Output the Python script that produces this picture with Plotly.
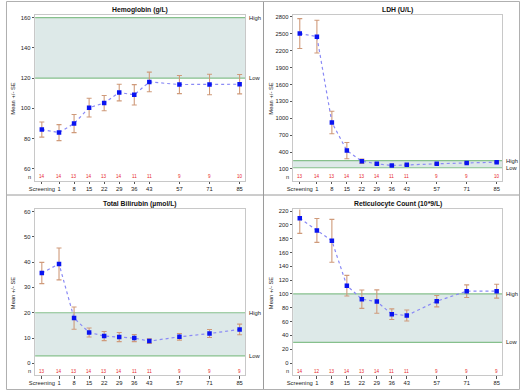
import plotly.graph_objects as go

# ---------------- data ----------------
visit_labels = ["Screening", "1", "8", "15", "22", "29", "36", "43", "57", "71", "85"]
visit_day = [-7, 1, 8, 15, 22, 29, 36, 43, 57, 71, 85]

hgb_mean = [86, 84, 90, 100.5, 103.5, 110.5, 109, 117.5, 115.8, 115.8, 116]
hgb_se = [5, 5.3, 6, 6.2, 5, 5.5, 6.7, 6.5, 6, 6.8, 6.4]
hgb_n = [14, 14, 13, 14, 13, 14, 11, 11, 9, 9, 10]

ldh_mean = [2505, 2450, 925, 425, 236, 190, 160, 172, 190, 206, 218]
ldh_se = [265, 290, 200, 145, 38, 14, 10, 10, 10, 10, 10]
ldh_n = [13, 14, 13, 14, 13, 14, 11, 11, 9, 9, 10]

bili_mean = [35.7, 39.3, 17.9, 12.2, 10.8, 10.4, 10.0, 8.8, 10.5, 11.8, 13.4]
bili_se = [4.2, 6.3, 4.4, 1.8, 1.8, 1.8, 1.4, 0.9, 1.3, 1.6, 2.1]
bili_n = [13, 14, 13, 14, 13, 14, 11, 11, 9, 9, 9]

ret_mean = [209.5, 192, 177, 112, 92.5, 89, 70.7, 68.8, 89.5, 104, 104]
ret_se = [21.7, 17.3, 31, 15, 13.3, 17, 7.7, 8, 8.2, 9.2, 10]
ret_n = [14, 12, 13, 14, 13, 14, 11, 11, 9, 9, 9]

panels = [
    dict(title="Hemoglobin (g/L)", mean=hgb_mean, se=hgb_se, n=hgb_n,
         low=120, high=160, yrange=[52.3, 161.8], ticks=list(range(60, 161, 20))),
    dict(title="LDH (U/L)", mean=ldh_mean, se=ldh_se, n=ldh_n,
         low=120, high=246, yrange=[-107, 2835], ticks=list(range(100, 2801, 300))),
    dict(title="Total Bilirubin (µmol/L)", mean=bili_mean, se=bili_se, n=bili_n,
         low=3, high=20, yrange=[-4.6, 60.8], ticks=list(range(0, 61, 10))),
    dict(title="Reticulocyte Count (10*9/L)", mean=ret_mean, se=ret_se, n=ret_n,
         low=30, high=100, yrange=[-17.4, 222.4], ticks=list(range(0, 221, 20))),
]

W, H = 520, 390
# plot-area boxes in pixels (x0, x1, ytop, ybottom)
boxes = [(29.5, 242, 14, 180), (290.5, 502, 14, 180),
         (29.5, 242, 209, 375), (290.5, 502, 209, 375)]

FONT = "Liberation Sans, Arial, sans-serif"
fig = go.Figure()
shapes = []
annotations = []
layout = {}

for i, (p, b) in enumerate(zip(panels, boxes), start=1):
    xa = "x" if i == 1 else f"x{i}"
    ya = "y" if i == 1 else f"y{i}"
    xkey = "xaxis" if i == 1 else f"xaxis{i}"
    ykey = "yaxis" if i == 1 else f"yaxis{i}"
    x0, x1, yt, yb = b
    layout[xkey] = dict(
        domain=[x0 / W, x1 / W], anchor=ya, range=[-10.1, 87.6],
        tickmode="array", tickvals=visit_day, ticktext=visit_labels,
        ticks="outside", ticklen=2.5, tickcolor="#555", tickwidth=0.8,
        tickfont=dict(size=5.8, color="#222", family=FONT),
        showgrid=False, zeroline=False, showline=True, mirror=True,
        linecolor="#c8c8c8", linewidth=1,
    )
    layout[ykey] = dict(
        domain=[1 - yb / H, 1 - yt / H], anchor=xa, range=p["yrange"],
        tickmode="array", tickvals=p["ticks"],
        ticks="outside", ticklen=2.5, tickcolor="#555", tickwidth=0.8,
        tickfont=dict(size=5.8, color="#222", family=FONT),
        showgrid=False, zeroline=False, showline=True, mirror=True,
        linecolor="#c8c8c8", linewidth=1,
    )
    # reference band
    shapes.append(dict(type="rect", xref=f"{xa} domain", yref=ya, x0=0, x1=1,
                       y0=p["low"], y1=p["high"], fillcolor="#dde9e8",
                       line=dict(width=0), layer="below"))
    for v in (p["low"], p["high"]):
        shapes.append(dict(type="line", xref=f"{xa} domain", yref=ya, x0=0, x1=1,
                           y0=v, y1=v, line=dict(color="#86c08c", width=1.2),
                           layer="below"))
    annotations.append(dict(text="High", xref=f"{xa} domain", yref=ya, x=1.01, y=p["high"],
                            xanchor="left", yanchor="middle", showarrow=False,
                            font=dict(size=5.8, color="#222", family=FONT)))
    annotations.append(dict(text="Low", xref=f"{xa} domain", yref=ya, x=1.01, y=p["low"],
                            xanchor="left", yanchor="middle", showarrow=False,
                            font=dict(size=5.8, color="#222", family=FONT)))
    # title
    annotations.append(dict(text=f"<b>{p['title']}</b>", xref=f"{xa} domain", yref="paper",
                            x=0.5, y=1 - (yt - 5) / H, xanchor="center", yanchor="middle",
                            showarrow=False, font=dict(size=6.8, color="#111", family=FONT)))
    # y title
    annotations.append(dict(text="Mean +/- SE", xref="paper", yref=f"{ya} domain",
                            x=(x0 - 22.5) / W, y=0.5, textangle=-90, xanchor="center",
                            yanchor="middle", showarrow=False,
                            font=dict(size=5.8, color="#222", family=FONT)))
    # n row
    annotations.append(dict(text="n", xref=f"{xa} domain", yref=f"{ya} domain",
                            x=-0.012, y=0.024, xanchor="right", yanchor="middle",
                            showarrow=False, font=dict(size=5.6, color="#222", family=FONT)))
    for d, nv in zip(visit_day, p["n"]):
        annotations.append(dict(text=str(nv), xref=xa, yref=f"{ya} domain",
                                x=d, y=0.024, xanchor="center", yanchor="middle",
                                showarrow=False, font=dict(size=4.6, color="#e8262a", family=FONT)))
    # data
    fig.add_trace(go.Scatter(
        x=visit_day, y=p["mean"], xaxis=xa, yaxis=ya, mode="lines+markers",
        line=dict(color="#8a8af5", width=1.2, dash="dot"),
        marker=dict(symbol="square", size=4.5, color="#0a14f0"),
        error_y=dict(type="data", array=p["se"], visible=True, color="#cf9a7a",
                     thickness=1.1, width=2.5),
        showlegend=False, hoverinfo="skip",
    ))

# panel dividers and border
shapes.append(dict(type="line", xref="paper", yref="paper", x0=260.5 / W, x1=260.5 / W,
                   y0=0, y1=1, line=dict(color="#9a9a9a", width=1)))
shapes.append(dict(type="line", xref="paper", yref="paper", x0=0, x1=1,
                   y0=1 - 194.5 / H, y1=1 - 194.5 / H, line=dict(color="#9a9a9a", width=1)))
shapes.append(dict(type="rect", xref="paper", yref="paper", x0=0.5 / W, x1=1 - 0.5 / W,
                   y0=0.5 / H, y1=1 - 0.5 / H, line=dict(color="#b0b0b0", width=1)))

fig.update_layout(
    width=W, height=H, margin=dict(l=0, r=0, t=0, b=0),
    paper_bgcolor="white", plot_bgcolor="white",
    shapes=shapes, annotations=annotations, showlegend=False,
    font=dict(family=FONT), **layout,
)

fig.write_html("out.html", include_plotlyjs=True, config={"displayModeBar": False},
               post_script="document.body.style.margin='0';document.body.style.overflow='hidden';")
